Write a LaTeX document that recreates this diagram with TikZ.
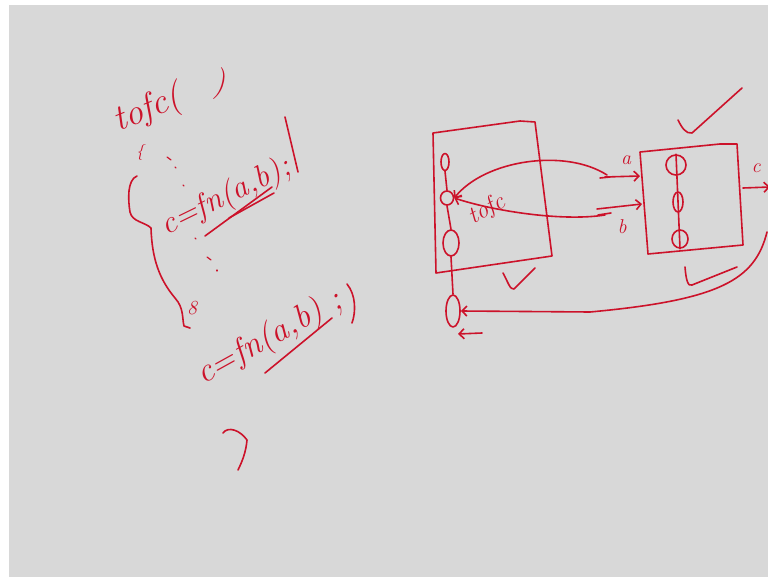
\documentclass[tikz,border=0pt]{standalone}
\usetikzlibrary{arrows.meta,shapes.geometric}
\definecolor{board}{RGB}{216,216,216}
\definecolor{inkred}{RGB}{204,18,42}
\tikzset{
  pen/.style={draw=inkred, line width=1.6pt, line cap=round, line join=round},
  hand/.style={text=inkred, inner sep=0pt, font=\itshape\fontsize{32}{32}\selectfont},
  smallhand/.style={hand, font=\itshape\fontsize{20}{20}\selectfont},
  ring/.style={pen, ellipse, inner sep=0pt},
  headto/.style={-{Straight Barb[length=5pt,width=10pt]}},
  headfrom/.style={{Straight Barb[length=5pt,width=10pt]}-}
}
\begin{document}
\begin{tikzpicture}[x=1pt,y=-1pt]
  % board
  \fill[white] (0,0) rectangle (768,577);
  \fill[board] (9,5) rectangle (768,577);
  \useasboundingbox (0,0) rectangle (768,577);

  % the code on the left
  \node[hand,rotate=22,font=\itshape\fontsize{36}{36}\selectfont] (call) at (148,110) {tofc(};
  \node[hand] (callend) at (219,84) {)};
  \node[smallhand,font=\itshape\fontsize{16}{16}\selectfont] (open) at (140,153) {\{};
  \draw[pen,line width=1.2pt] (167,157) -- (171,160);
  \draw[pen,line width=1.2pt] (175,167) -- (176,168);
  \draw[pen,line width=1.2pt] (183,185) -- (184,186);
  \draw[pen] (137,176) .. controls (127,180) and (128,200) .. (130,212)
    .. controls (132,222) and (145,222) .. (151,228)
    .. controls (152,260) and (160,280) .. (175,298)
    .. controls (184,308) and (182,318) .. (184,326) -- (190,328);
  \node[smallhand] (ret) at (192,308) {8};

  \node[hand,rotate=26] (first) at (226,197) {c=fn(a,b);};
  \draw[pen] (205,236) -- (272,187);
  \draw[pen] (229,218) -- (274,193);
  \draw[pen] (285,117) -- (298,172);
  \draw[pen,line width=1.2pt] (195,238) -- (196,239);
  \draw[pen,line width=1.2pt] (207,257) -- (211,260);
  \draw[pen,line width=1.2pt] (217,270) -- (217,271);

  \node[hand,rotate=29,font=\itshape\fontsize{34}{34}\selectfont] (second) at (270,338) {c=fn(a,b) ;};
  \draw[pen] (265,373) -- (332,318);
  \draw[pen] (347,284) .. controls (356,295) and (356,312) .. (352,323);

  \draw[pen] (223,433) .. controls (228,426) and (240,430) .. (247,440)
    .. controls (246,452) and (242,462) .. (238,470);

  % caller frame
  \draw[pen] (433,133) -- (520,121) -- (535,122) -- (552,256) -- (436,273) -- cycle;
  \node[ring,minimum width=8pt,minimum height=17pt] (p1) at (445,162) {};
  \node[ring,minimum width=13pt,minimum height=14pt] (p2) at (447,198) {};
  \node[ring,minimum width=16pt,minimum height=26pt] (p3) at (451,243) {};
  \node[ring,minimum width=14pt,minimum height=32pt] (p4) at (453,311) {};
  \draw[pen] (p1.south) -- (p2.north);
  \draw[pen] (p2.south) -- (p3.north);
  \draw[pen] (p3.south) -- (p4.north);
  \node[smallhand,rotate=30,font=\itshape\fontsize{24}{24}\selectfont] (inner) at (487,210) {tofc};
  \draw[pen] (503,273) .. controls (508,282) and (510,290) .. (514,289) -- (535,268);

  % callee frame
  \draw[pen] (640,152) -- (720,144) -- (737,144) -- (743,245) -- (648,254) -- cycle;
  \node[ring,minimum width=20pt,minimum height=20pt] (q1) at (676,165) {};
  \node[ring,minimum width=10pt,minimum height=20pt] (q2) at (678,202) {};
  \node[ring,minimum width=16pt,minimum height=18pt] (q3) at (680,239) {};
  \draw[pen] (q1.north) -- (q3.south);
  \draw[pen] (678,120) .. controls (682,128) and (686,134) .. (692,133) -- (742,88);
  \draw[pen] (685,267) .. controls (686,280) and (688,287) .. (692,285) -- (737,267);

  % arguments
  \coordinate (ina) at (640,176);
  \coordinate (inb) at (642,204);
  \draw[pen,headfrom] (p2.east) .. controls (485,160) and (565,148) .. (607,175);
  \draw[pen] (600,178) -- (610,177);
  \draw[pen,headto] (605,177) -- (ina);
  \node[smallhand] (la) at (626,160) {a};
  \draw[pen,headfrom] (p2.east) .. controls (490,210) and (560,222) .. (605,215);
  \draw[pen] (598,215) -- (611,213);
  \draw[pen,headto] (597,209) -- (inb);
  \node[smallhand] (lb) at (622,227) {b};

  % result
  \coordinate (out) at (743,188);
  \coordinate (outend) at (770,187);
  \draw[pen,headto] (out) -- (outend);
  \node[smallhand] (lc) at (756,168) {c};
  \coordinate (back) at (767,232);
  \draw[pen,headto] (back) .. controls (755,280) and (720,300) .. (590,312) -- (p4.east);
  \coordinate (arrs) at (482,333);
  \coordinate (arre) at (458,334);
  \draw[pen,headto] (arrs) -- (arre);
\end{tikzpicture}
\end{document}
